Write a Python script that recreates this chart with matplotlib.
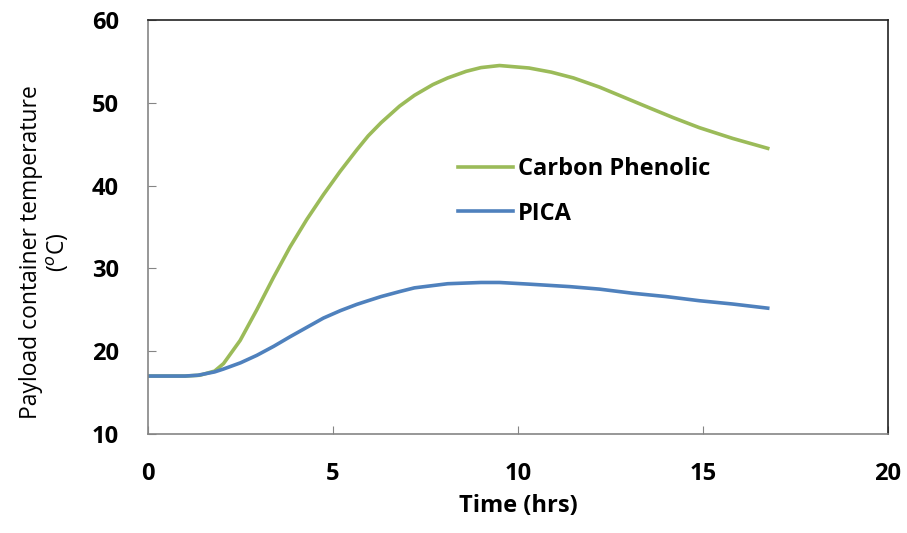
import numpy as np
import matplotlib.pyplot as plt

# time (hrs) and payload container temperature (degC) for each heat shield
time_cp = [0, 1, 1.4, 1.8, 2.04, 2.49, 2.94, 3.39, 3.84, 4.29, 4.74, 5.19,
           5.64, 5.95, 6.3, 6.8, 7.2, 7.7, 8.1, 8.6, 9.0, 9.5, 10.3, 10.9,
           11.5, 12.2, 12.9, 13.6, 14.2, 14.9, 15.8, 16.75]
temp_cp = [17, 17, 17.1, 17.6, 18.5, 21.3, 25.0, 28.9, 32.6, 35.9, 38.9,
           41.7, 44.3, 46.0, 47.6, 49.6, 50.9, 52.2, 53.0, 53.8, 54.25, 54.5,
           54.2, 53.7, 53.0, 51.9, 50.6, 49.3, 48.2, 47.0, 45.7, 44.5]

time_pica = [0, 1, 1.35, 1.8, 2.04, 2.5, 2.94, 3.4, 3.84, 4.3, 4.74, 5.2,
             5.64, 5.95, 6.3, 6.8, 7.2, 8.1, 9.0, 9.5, 10.3, 11.4, 12.2, 13.1,
             14.0, 14.9, 15.8, 16.75]
temp_pica = [17, 17, 17.1, 17.5, 17.85, 18.6, 19.5, 20.6, 21.75, 22.9, 24.0,
             24.9, 25.65, 26.1, 26.6, 27.2, 27.65, 28.15, 28.3, 28.3, 28.1,
             27.8, 27.5, 27.0, 26.6, 26.1, 25.7, 25.2]

labels = ['Carbon Phenolic', 'PICA']

plt.rcParams['font.family'] = ['Open Sans', 'DejaVu Sans']

fig = plt.figure(figsize=(9.07, 5.33), dpi=100)
ax = fig.add_axes([0.1632, 0.1857, 0.8158, 0.7768])

ax.plot(time_cp, temp_cp, color='#9BBB59', lw=2.6, label=labels[0])
ax.plot(time_pica, temp_pica, color='#4F81BD', lw=2.6, label=labels[1])

ax.set_xlim(0, 20)
ax.set_ylim(10, 60)
ax.set_xticks([0, 5, 10, 15, 20])
ax.set_yticks([10, 20, 30, 40, 50, 60])

for s in ['left', 'bottom']:
    ax.spines[s].set_color('#858585')
    ax.spines[s].set_linewidth(1.2)
for s in ['top', 'right']:
    ax.spines[s].set_color('#222222')
    ax.spines[s].set_linewidth(1.2)

ax.tick_params(direction='in', length=6, color='#858585', labelsize=17)
ax.tick_params(axis='x', pad=20)
ax.tick_params(axis='y', pad=21)
for t in ax.get_xticklabels() + ax.get_yticklabels():
    t.set_fontweight('bold')

ax.set_xlabel('Time (hrs)', fontsize=17, fontweight='bold', labelpad=6)
ax.set_ylabel('Payload container temperature\n(${}^{o}$C)', fontsize=16.5,
              linespacing=1.1)
ax.yaxis.set_label_coords(-0.104, 0.44)

leg = ax.legend(loc='upper left', bbox_to_anchor=(0.419, 0.668),
                frameon=False, prop={'size': 17, 'weight': 'bold'},
                handlelength=2.33, handletextpad=0.2, labelspacing=0.85,
                borderpad=0, borderaxespad=0)

fig.savefig('out.png', dpi=100)
